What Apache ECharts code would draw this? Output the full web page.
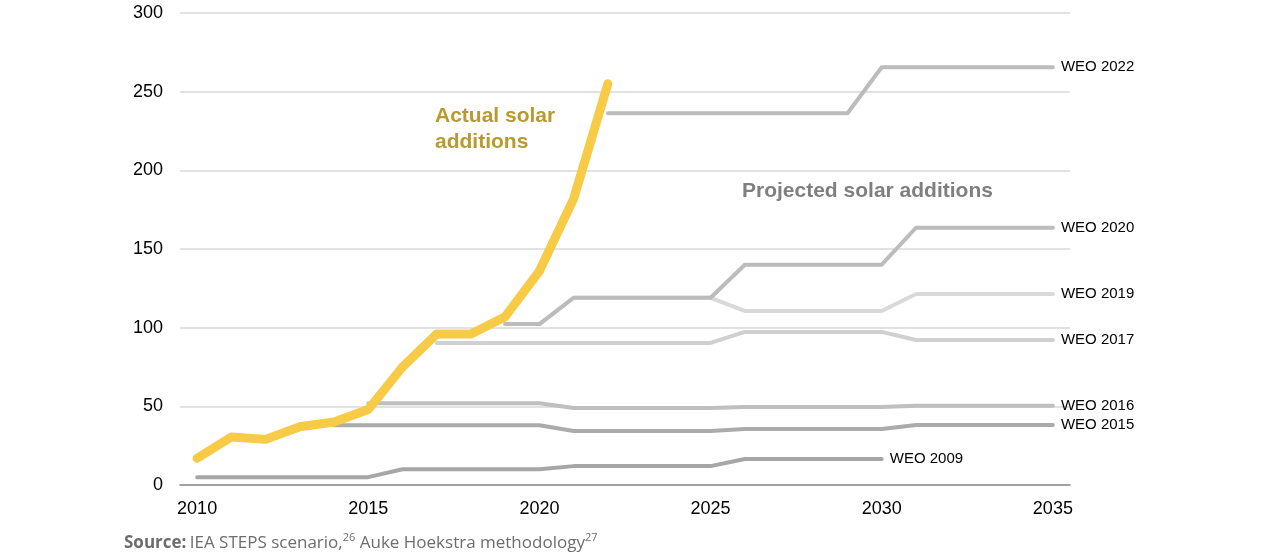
<!DOCTYPE html>
<html>
<head>
<meta charset="utf-8">
<script src="https://cdn.jsdelivr.net/npm/echarts@6/dist/echarts.min.js"></script>
<style>
html,body{margin:0;padding:0;background:#fff;}
#c{width:1280px;height:556px;}
</style>
</head>
<body>
<div id="c"></div>
<script>
// Categories (years)
var years = ['2010','2011','2012','2013','2014','2015','2016','2017','2018','2019','2020','2021','2022',
             '2023','2024','2025','2026','2027','2028','2029','2030','2031','2032','2033','2034','2035'];
var yTicks = [0, 50, 100, 150, 200, 250, 300];

// Actual solar additions (GW), 2010-2022
var actual = [17, 30.5, 29, 37, 40, 48, 75, 96, 96, 107, 136, 182, 255];

// Projections, '-' = no value
var weo2009 = [5,5,5,5,5,5,10,10,10,10,10,12,12,12,12,12,16.5,16.5,16.5,16.5,16.5,'-','-','-','-','-'];
var weo2015 = ['-','-','-','-',38,38,38,38,38,38,38,34.3,34.3,34.3,34.3,34.3,35.6,35.6,35.6,35.6,35.6,38.1,38.1,38.1,38.1,38.1];
var weo2016 = ['-','-','-','-','-',52,52,52,52,52,52,49,49,49,49,49,49.6,49.6,49.6,49.6,49.6,50.3,50.3,50.3,50.3,50.3];
var weo2017 = ['-','-','-','-','-','-','-',90.3,90.3,90.3,90.3,90.3,90.3,90.3,90.3,90.3,97.3,97.3,97.3,97.3,97.3,92.2,92.2,92.2,92.2,92.2];
var weo2019 = ['-','-','-','-','-','-','-','-','-',102.3,102.3,119,119,119,119,119,110.6,110.6,110.6,110.6,110.6,121.4,121.4,121.4,121.4,121.4];
var weo2020 = ['-','-','-','-','-','-','-','-','-',102.3,102.3,119,119,119,119,119,140,140,140,140,140,163.5,163.5,163.5,163.5,163.5];
var weo2022 = ['-','-','-','-','-','-','-','-','-','-','-','-',236.3,236.3,236.3,236.3,236.3,236.3,236.3,236.3,265.5,265.5,265.5,265.5,265.5,265.5];

var FONT = '"Liberation Sans", Arial, sans-serif';

function proj(name, data, color, z) {
  return {
    name: name, type: 'line', data: data, z: z,
    symbol: 'none', connectNulls: false, silent: true,
    lineStyle: { color: color, width: 4, cap: 'round', join: 'round' },
    endLabel: { show: true, formatter: '{a}', color: '#000', fontSize: 15, fontFamily: FONT, distance: 8 },
    animation: false
  };
}

var chart = echarts.init(document.getElementById('c'), null, { renderer: 'canvas' });
chart.setOption({
  backgroundColor: '#fff',
  animation: false,
  grid: { left: 180, right: 210, top: 13, bottom: 71 },
  xAxis: {
    type: 'category', data: years, boundaryGap: true,
    axisLine: { show: true, lineStyle: { color: '#8c8c8c', width: 1.5 } },
    axisTick: { show: false },
    axisLabel: { interval: 4, color: '#000', fontSize: 18, fontFamily: FONT, margin: 15 },
    splitLine: { show: false }
  },
  yAxis: {
    type: 'value', min: yTicks[0], max: yTicks[yTicks.length - 1], interval: 50,
    axisLine: { show: false }, axisTick: { show: false },
    axisLabel: { color: '#000', fontSize: 18, fontFamily: FONT, margin: 17 },
    splitLine: { lineStyle: { color: '#d9d9d9', width: 1.5 } }
  },
  series: [
    proj('WEO 2009', weo2009, '#a6a6a6', 2),
    proj('WEO 2015', weo2015, '#ababab', 2),
    proj('WEO 2016', weo2016, '#bfbfbf', 2),
    proj('WEO 2017', weo2017, '#d0d0d0', 2),
    proj('WEO 2019', weo2019, '#d9d9d9', 2),
    proj('WEO 2020', weo2020, '#bcbcbc', 3),
    proj('WEO 2022', weo2022, '#bcbcbc', 3),
    {
      name: 'Actual', type: 'line', data: actual, z: 5, symbol: 'none', silent: true,
      lineStyle: { color: '#f7cb45', width: 9, cap: 'round', join: 'round' },
      animation: false
    }
  ],
  graphic: [
    { type: 'text', left: 435, top: 103, silent: true,
      style: { text: 'Actual solar\nadditions', fill: '#b99a2e', font: 'bold 21px ' + FONT, lineHeight: 26 } },
    { type: 'text', left: 742, top: 181, silent: true,
      style: { text: 'Projected solar additions', fill: '#7f7f7f', font: 'bold 21px ' + FONT } },
    { type: 'text', left: 124, top: 532, silent: true,
      style: {
        text: '{b|Source:} {n|IEA STEPS scenario,}{s|26}{n| Auke Hoekstra methodology}{s|27}',
        rich: {
          b: { fontFamily: '"Open Sans", sans-serif', fontWeight: 'bold', fontSize: 17, fill: '#6d6d6d', lineHeight: 22 },
          n: { fontFamily: '"Open Sans", sans-serif', fontSize: 17, fill: '#6d6d6d', lineHeight: 22 },
          s: { fontFamily: '"Open Sans", sans-serif', fontSize: 11, fill: '#6d6d6d', lineHeight: 22, verticalAlign: 'top', padding: [0, 0, 9, 0] }
        }
      } }
  ]
});
</script>
</body>
</html>
